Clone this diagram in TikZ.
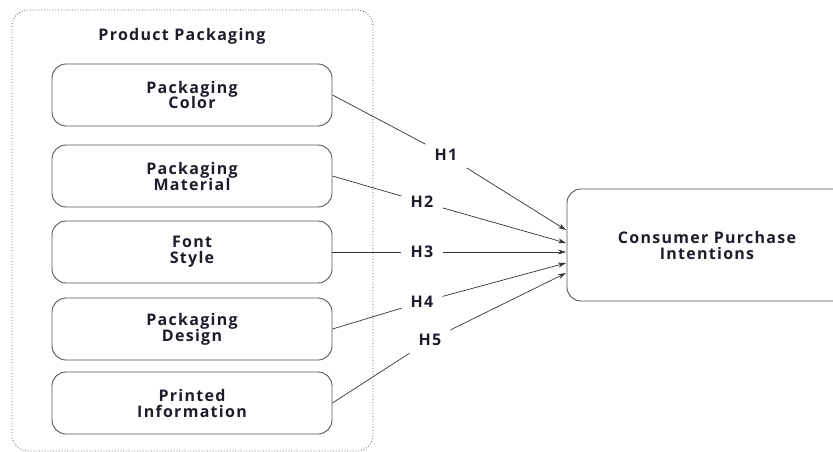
\documentclass[tikz,border=0pt]{standalone}
\usepackage{fontspec}
\setmainfont{Open Sans}
\newfontfamily\lbl[LetterSpace=8]{Open Sans}
\usetikzlibrary{arrows.meta}
\definecolor{ink}{HTML}{1C1C2A}
\definecolor{edge}{HTML}{555555}
\definecolor{arr}{HTML}{333333}
\begin{document}
\begin{tikzpicture}[x=1pt,y=-1pt,
  every node/.style={text=ink,font=\lbl\bfseries\fontsize{16}{16}\selectfont,align=center},
  factor/.style={draw=edge,line width=0.9pt,rounded corners=14pt,minimum width=280pt,minimum height=62pt,inner sep=0pt},
  hyp/.style={inner sep=9pt},
  link/.style={draw=arr,line width=0.7pt},
  arrowlink/.style={link,-{Stealth[length=8pt,width=5pt]}}]
\useasboundingbox (0,0) rectangle (833,452);
\draw[edge,line width=0.8pt,dotted,rounded corners=16pt] (12,10) rectangle (373,451);
\node (title) at (182,36) {Product Packaging};
\node[factor] (b1) at (192,95) {Packaging\\Color};
\node[factor] (b2) at (192,176) {Packaging\\Material};
\node[factor] (b3) at (192,252) {Font\\Style};
\node[factor] (b4) at (192,329) {Packaging\\Design};
\node[factor] (b5) at (192,403) {Printed\\Information};
\node[draw=edge,line width=0.9pt,rounded corners=14pt,minimum width=280pt,minimum height=112pt,inner sep=0pt] (cpi) at (707,245) {Consumer Purchase\\Intentions};
\node[hyp] (h1) at (446,155) {H1};
\node[hyp] (h2) at (422,202) {H2};
\node[hyp] (h3) at (422,252) {H3};
\node[hyp] (h4) at (422,302) {H4};
\node[hyp] (h5) at (430,340) {H5};
\coordinate (t1) at (566,230);
\coordinate (t2) at (566,243);
\coordinate (t3) at (566,252);
\coordinate (t4) at (566,263);
\coordinate (t5) at (566,273);
\path[link] (b1.east) -- (h1);
\path[link] (b2.east) -- (h2);
\path[link] (b3.east) -- (h3);
\path[link] (b4.east) -- (h4);
\path[link] (b5.east) -- (h5);
\path[arrowlink] (h1) -- (t1);
\path[arrowlink] (h2) -- (t2);
\path[arrowlink] (h3) -- (t3);
\path[arrowlink] (h4) -- (t4);
\path[arrowlink] (h5) -- (t5);
\end{tikzpicture}
\end{document}
